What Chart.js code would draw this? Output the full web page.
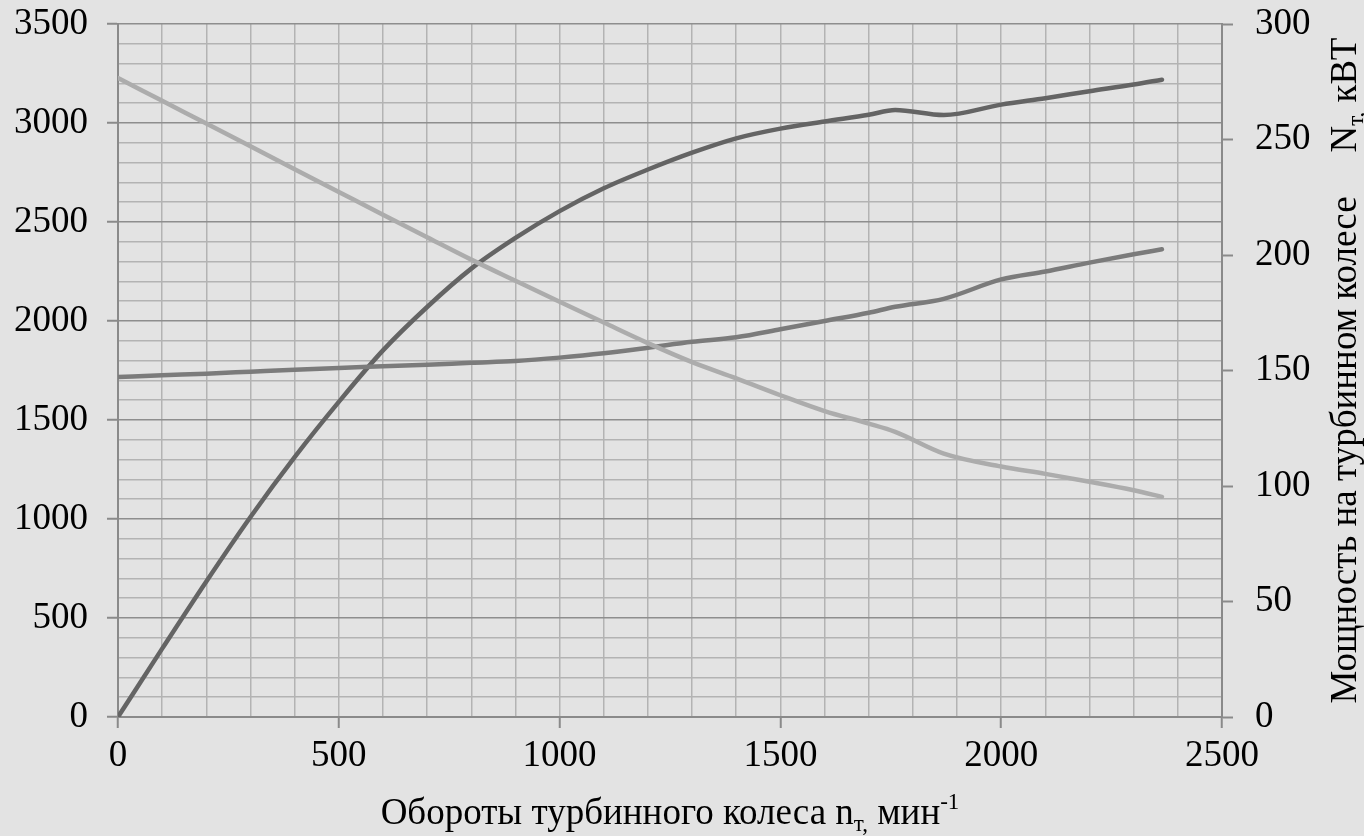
<!doctype html>
<html lang="ru">
  <head>
    <meta charset="UTF-8" />
    <title>Характеристика турбинного колеса</title>
    <script src="https://cdn.jsdelivr.net/npm/chart.js"></script>
    <style>
      body {
        margin: 0;
        padding: 0;
        background-color: #e3e3e3;
      }
      canvas {
        display: block;
      }
    </style>
  </head>
  <body>
    <canvas id="turbineChart" width="1364" height="836"></canvas>

    <script>
      // частота вращения турбинного колеса, мин-1
      const speeds = [0, 100, 200, 300, 400, 500, 600, 700, 800, 900, 1000, 1100, 1200,
        1300, 1400, 1500, 1600, 1700, 1760, 1870, 2000, 2100, 2200, 2300, 2364];

      // мощность на турбинном колесе, кВт (правая ось)
      const powerKW = [0, 29.6, 58.7, 86.6, 112.5, 136.4, 158.7, 177.5, 194.1, 207.4, 219.0,
        228.9, 237.0, 244.3, 250.5, 254.7, 257.8, 260.7, 262.8, 260.6, 265.1, 267.9, 270.9,
        273.8, 275.9];

      // левая ось
      const risingCurve = [1717, 1726, 1734, 1744, 1754, 1763, 1771, 1779, 1789, 1798, 1815,
        1837, 1865, 1895, 1918, 1958, 2000, 2042, 2072, 2112, 2210, 2250, 2295, 2337, 2362];
      const fallingCurve = [3227, 3112, 2997, 2882, 2767, 2652, 2537, 2423, 2310, 2203, 2097,
        1992, 1888, 1792, 1710, 1625, 1545, 1482, 1440, 1330, 1265, 1228, 1188, 1145, 1112];

      const serif = '"Liberation Serif", "Times New Roman", serif';
      const fontSize = 37;
      const gridMinor = '#b3b3b3';
      const gridMajor = '#8e8e8e';
      const axisColor = '#8a8a8a';

      const toPoints = (ys) => ys.map((y, i) => ({ x: speeds[i], y }));

      // рисует строку из кусков с нижними/верхними индексами
      function drawRich(ctx, parts, size) {
        let total = 0;
        parts.forEach((p) => {
          ctx.font = `${p.small ? Math.round(size * 0.62) : size}px ${serif}`;
          p.w = ctx.measureText(p.text).width;
          total += p.w + (p.gap || 0);
        });
        let x = -total / 2;
        parts.forEach((p) => {
          ctx.font = `${p.small ? Math.round(size * 0.62) : size}px ${serif}`;
          ctx.fillText(p.text, x, p.dy || 0);
          x += p.w + (p.gap || 0);
        });
      }

      const axisTitles = {
        id: 'axisTitles',
        afterDraw(chart) {
          const { ctx, chartArea } = chart;
          ctx.save();
          ctx.fillStyle = '#000';
          ctx.textBaseline = 'alphabetic';
          ctx.textAlign = 'left';

          ctx.save();
          ctx.translate((chartArea.left + chartArea.right) / 2, 824);
          drawRich(ctx, [
            { text: 'Обороты турбинного колеса n' },
            { text: 'т,', small: true, dy: 7 },
            { text: ' мин' },
            { text: '-1', small: true, dy: -15 },
          ], fontSize);
          ctx.restore();

          ctx.save();
          ctx.translate(1356, (chartArea.top + chartArea.bottom) / 2);
          ctx.rotate(-Math.PI / 2);
          drawRich(ctx, [
            { text: 'Мощность на турбинном колесе', gap: 44 },
            { text: 'N' },
            { text: 'т,', small: true, dy: 7 },
            { text: ' кВТ' },
          ], fontSize);
          ctx.restore();

          ctx.restore();
        },
      };

      const majorTick = (ctx) => (ctx.tick && ctx.tick.value % 500 === 0 ? axisColor : 'rgba(0,0,0,0)');

      // крайние подписи не должны сдвигать область графика
      const noPadding = (s) => {
        s.paddingTop = 0;
        s.paddingBottom = 0;
      };

      const lineStyle = {
        pointRadius: 0,
        borderWidth: 4.5,
        borderCapStyle: 'round',
        cubicInterpolationMode: 'monotone',
        fill: false,
      };

      new Chart(document.getElementById('turbineChart'), {
        type: 'line',
        data: {
          datasets: [
            { ...lineStyle, data: toPoints(fallingCurve), borderColor: '#acacac', yAxisID: 'y' },
            { ...lineStyle, data: toPoints(risingCurve), borderColor: '#7b7b7b', yAxisID: 'y' },
            { ...lineStyle, data: toPoints(powerKW), borderColor: '#646464', yAxisID: 'y2' },
          ],
        },
        options: {
          responsive: false,
          devicePixelRatio: 1,
          animation: false,
          layout: { padding: { top: 24, left: 0, right: 0, bottom: 0 } },
          plugins: {
            legend: { display: false },
            tooltip: { enabled: false },
          },
          scales: {
            x: {
              type: 'linear',
              min: 0,
              max: 2500,
              afterFit: (s) => { s.height = 119; },
              border: { color: axisColor, width: 2 },
              grid: {
                color: gridMinor,
                lineWidth: 1.5,
                tickLength: 11,
                tickColor: majorTick,
                tickWidth: 2,
              },
              ticks: {
                stepSize: 100,
                autoSkip: false,
                maxRotation: 0,
                padding: 6,
                color: '#000',
                font: { family: serif, size: fontSize },
                callback: (v) => (v % 500 === 0 ? String(v) : ''),
              },
            },
            y: {
              position: 'left',
              min: 0,
              max: 3500,
              afterFit: (s) => { s.width = 118; noPadding(s); },
              border: { color: axisColor, width: 2 },
              grid: {
                color: (ctx) => (ctx.tick && ctx.tick.value % 500 === 0 ? gridMajor : gridMinor),
                lineWidth: 1.5,
                tickLength: 11,
                tickColor: majorTick,
                tickWidth: 2,
              },
              ticks: {
                stepSize: 100,
                autoSkip: false,
                padding: 19,
                color: '#000',
                font: { family: serif, size: fontSize },
                callback: (v) => (v % 500 === 0 ? String(v) : ''),
              },
            },
            y2: {
              position: 'right',
              min: 0,
              max: 300,
              afterFit: (s) => { s.width = 142; noPadding(s); },
              border: { color: axisColor, width: 2 },
              grid: {
                drawOnChartArea: false,
                tickLength: 11,
                tickColor: axisColor,
                tickWidth: 2,
              },
              ticks: {
                stepSize: 50,
                padding: 22,
                color: '#000',
                font: { family: serif, size: fontSize },
              },
            },
          },
        },
        plugins: [axisTitles],
      });
    </script>
  </body>
</html>
